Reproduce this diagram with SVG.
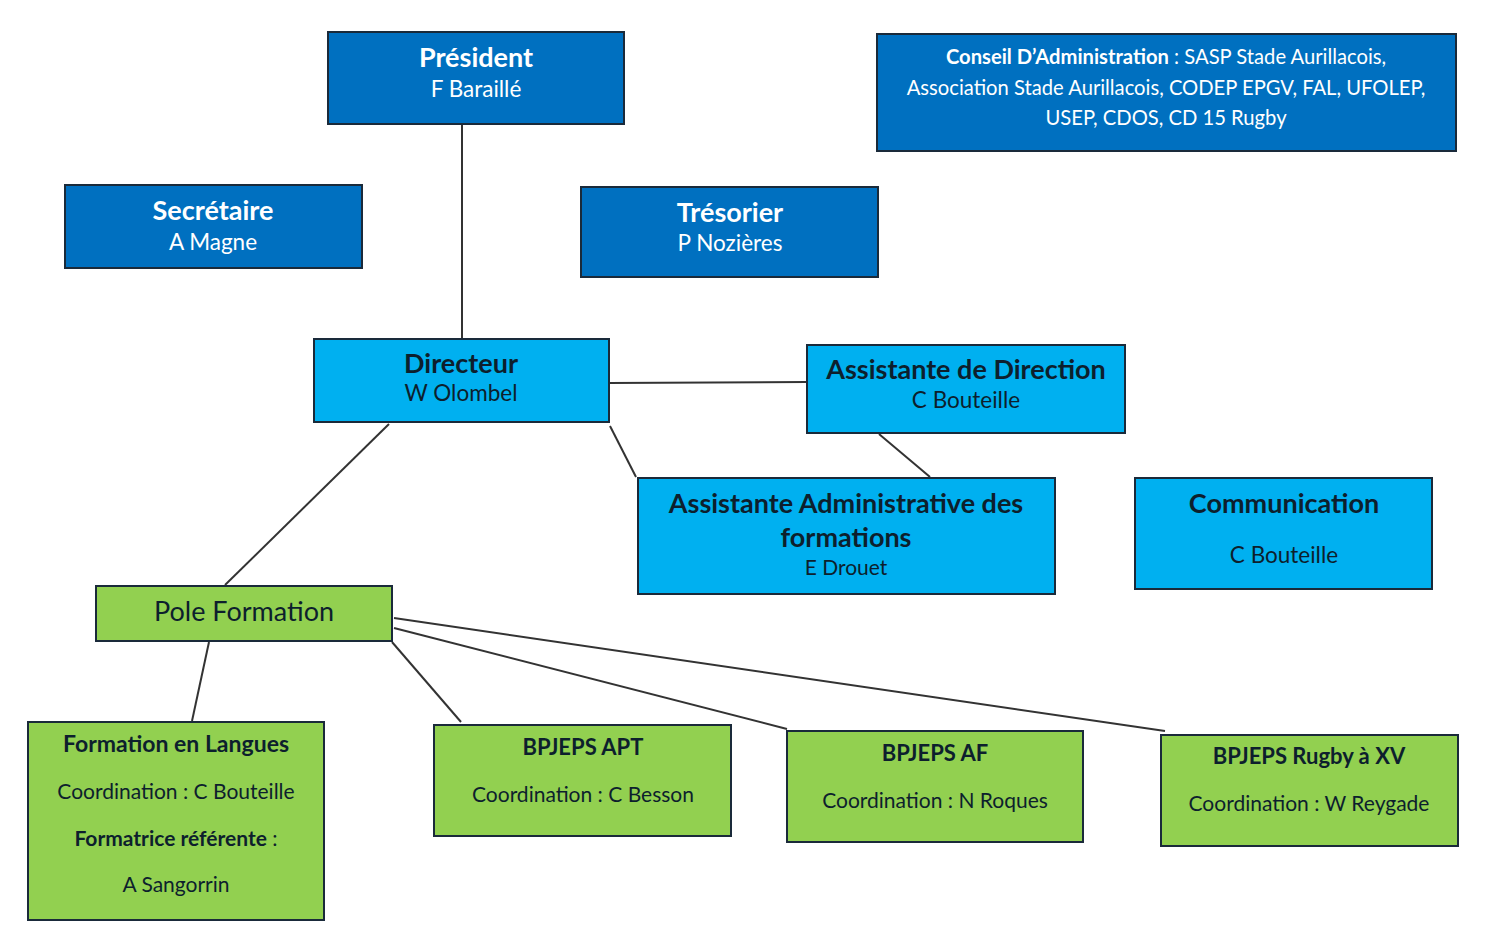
<svg xmlns="http://www.w3.org/2000/svg" width="1492" height="949" viewBox="0 0 1492 949">
<style>
text{font-family:Lato,"Open Sans","Liberation Sans",sans-serif;text-anchor:middle}
.dk{fill:#0070C0;stroke:#1a2a3a;stroke-width:2}
.lt{fill:#00B0F0;stroke:#1a2a3a;stroke-width:2}
.gr{fill:#92D050;stroke:#1a2a3a;stroke-width:2}
.w{fill:#ffffff}
.d{fill:#0d1f2d}
.t{font-size:27px;font-weight:bold}
.n{font-size:22.5px}
.s{font-size:21px}
.cs{font-size:20.2px}
.sb{font-size:22px;font-weight:bold}
.c line{stroke:#333;stroke-width:2}
</style>
<rect width="1492" height="949" fill="#fff"/>
<g class="c" id="connectors">
<line x1="462" y1="124" x2="462" y2="339"/>
<line x1="609" y1="383" x2="807" y2="382"/>
<line x1="610" y1="426" x2="636" y2="477"/>
<line x1="879" y1="434" x2="930" y2="477"/>
<line x1="389" y1="424" x2="225" y2="585"/>
<line x1="209" y1="642" x2="192" y2="721"/>
<line x1="392" y1="642" x2="461" y2="722"/>
<line x1="394" y1="628" x2="787" y2="729"/>
<line x1="394" y1="618" x2="1165" y2="731"/>
</g>
<g id="president"><rect class="dk" x="328" y="32" width="296" height="92"/>
<text class="t w" x="476" y="67">Président</text><text class="n w" x="476" y="97">F Baraillé</text></g>
<g id="conseil"><rect class="dk" x="877" y="34" width="579" height="117"/>
<text class="cs w" x="1166" y="64"><tspan font-weight="bold">Conseil D’Administration</tspan> : SASP Stade Aurillacois,</text>
<text class="cs w" x="1166" y="95">Association Stade Aurillacois, CODEP EPGV, FAL, UFOLEP,</text>
<text class="cs w" x="1166" y="125">USEP, CDOS, CD 15 Rugby</text></g>
<g id="secretaire"><rect class="dk" x="65" y="185" width="297" height="83"/>
<text class="t w" x="213" y="220">Secrétaire</text><text class="n w" x="213" y="250">A Magne</text></g>
<g id="tresorier"><rect class="dk" x="581" y="187" width="297" height="90"/>
<text class="t w" x="730" y="222">Trésorier</text><text class="n w" x="730" y="251">P Nozières</text></g>
<g id="directeur"><rect class="lt" x="314" y="339" width="295" height="83"/>
<text class="t d" x="461" y="373">Directeur</text><text class="n d" x="461" y="401">W Olombel</text></g>
<g id="assistante-direction"><rect class="lt" x="807" y="345" width="318" height="88"/>
<text class="t d" x="966" y="379">Assistante de Direction</text><text class="n d" x="966" y="408">C Bouteille</text></g>
<g id="assistante-admin"><rect class="lt" x="638" y="478" width="417" height="116"/>
<text class="t d" x="846" y="513">Assistante Administrative des</text>
<text class="t d" x="846" y="547">formations</text>
<text class="s d" x="846" y="575">E Drouet</text></g>
<g id="communication"><rect class="lt" x="1135" y="478" width="297" height="111"/>
<text class="t d" x="1284" y="513">Communication</text><text class="n d" x="1284" y="563">C Bouteille</text></g>
<g id="pole-formation"><rect class="gr" x="96" y="586" width="296" height="55"/>
<text class="d" x="244" y="621" style="font-size:27px">Pole Formation</text></g>
<g id="formation-langues"><rect class="gr" x="28" y="722" width="296" height="198"/>
<text class="sb d" x="176" y="752" style="font-size:23px">Formation en Langues</text>
<text class="s d" x="176" y="799">Coordination : C Bouteille</text>
<text class="s d" x="176" y="846"><tspan font-weight="bold">Formatrice référente</tspan> :</text>
<text class="s d" x="176" y="892">A Sangorrin</text></g>
<g id="bpjeps-apt"><rect class="gr" x="434" y="725" width="297" height="111"/>
<text class="sb d" x="583" y="755">BPJEPS APT</text><text class="s d" x="583" y="802">Coordination : C Besson</text></g>
<g id="bpjeps-af"><rect class="gr" x="787" y="731" width="296" height="111"/>
<text class="sb d" x="935" y="761">BPJEPS AF</text><text class="s d" x="935" y="808">Coordination : N Roques</text></g>
<g id="bpjeps-rugby"><rect class="gr" x="1161" y="735" width="297" height="111"/>
<text class="sb d" x="1309" y="764">BPJEPS Rugby à XV</text><text class="s d" x="1309" y="811">Coordination : W Reygade</text></g>
</svg>
